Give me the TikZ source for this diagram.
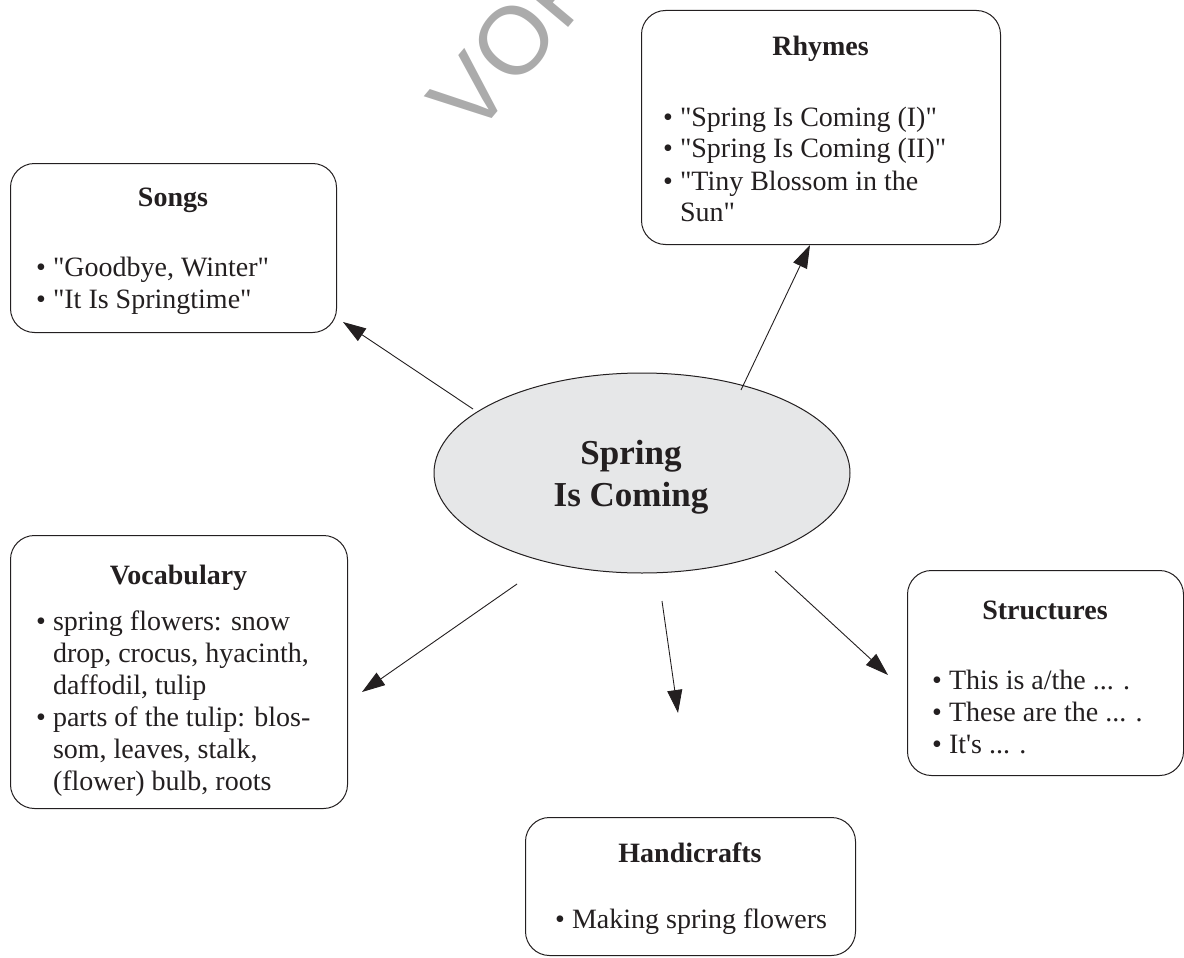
\documentclass[tikz,border=0pt]{standalone}
\usepackage{fontspec}
\setmainfont{Liberation Serif}[Ligatures=TeXOff]
\newfontfamily\wmfont{Liberation Sans}
\usetikzlibrary{arrows.meta,shapes.geometric,calc}
\definecolor{ink}{HTML}{231F20}
\definecolor{ellfill}{HTML}{E6E7E8}
\definecolor{wmgray}{HTML}{ABABAB}
\begin{document}
\begin{tikzpicture}[x=1pt,y=-1pt,
  box/.style={draw=ink, line width=1pt, rounded corners=24pt, inner sep=0pt, anchor=north west},
  ttl/.style={font=\fontsize{28}{32}\selectfont\bfseries, text=ink, anchor=base, inner sep=0pt},
  items/.style={font=\fontsize{28}{32}\selectfont, text=ink, anchor=base west, inner sep=0pt},
  arr/.style={draw=ink, line width=0.9pt, -{Triangle[length=23pt,width=15pt]}},
]
\useasboundingbox (0,0) rectangle (1184,958);

% watermark
\node[rotate=50, font=\wmfont\fontsize{96}{96}\selectfont, text=wmgray, anchor=base west, inner sep=0pt] (wm) at (474,140) {VOR};

% central ellipse
\node[ellipse, draw=ink, fill=ellfill, line width=1pt, minimum width=416pt, minimum height=200pt, inner sep=0pt] (sc) at (642,473) {};
\node[align=center, text=ink, inner sep=0pt, font=\fontsize{35}{42}\selectfont\bfseries] (scT) at (631,477) {Spring\\Is Coming};

% Songs
\node[box, minimum width=326pt, minimum height=169pt] (songs) at (10,163) {};
\node[ttl] (songsT) at (173,206) {Songs};
\node[items] (songsI) at (36,276) {\begin{tabular}[t]{@{}l@{\hspace{7pt}}l@{}}
• & "Goodbye, Winter"\\
• & "It Is Springtime"
\end{tabular}};

% Rhymes
\node[box, minimum width=359pt, minimum height=234pt] (rhymes) at (641,10) {};
\node[ttl] (rhymesT) at (820.5,56) {Rhymes};
\node[items] (rhymesI) at (663,126) {\begin{tabular}[t]{@{}l@{\hspace{7pt}}l@{}}
• & "Spring Is Coming (I)"\\
• & "Spring Is Coming (II)"\\
• & "Tiny Blossom in the\\
  & Sun"
\end{tabular}};

% Vocabulary
\node[box, minimum width=337pt, minimum height=273pt] (vocab) at (10,535) {};
\node[ttl] (vocabT) at (178.5,584) {Vocabulary};
\node[items] (vocabI) at (36,630) {\begin{tabular}[t]{@{}l@{\hspace{7pt}}l@{}}
• & spring flowers: snow\\
  & drop, crocus, hyacinth,\\
  & daffodil, tulip\\
• & parts of the tulip: blos-\\
  & som, leaves, stalk,\\
  & (flower) bulb, roots
\end{tabular}};

% Structures
\node[box, minimum width=276pt, minimum height=205pt] (struct) at (907,570) {};
\node[ttl] (structT) at (1045,619) {Structures};
\node[items] (structI) at (932,689) {\begin{tabular}[t]{@{}l@{\hspace{7pt}}l@{}}
• & This is a/the ... .\\
• & These are the ... .\\
• & It's ... .
\end{tabular}};

% Handicrafts
\node[box, minimum width=330pt, minimum height=138pt] (hand) at (525,817) {};
\node[ttl] (handT) at (690,862) {Handicrafts};
\node[items] (handI) at (555,928) {\begin{tabular}[t]{@{}l@{\hspace{7pt}}l@{}}
• & Making spring flowers
\end{tabular}};

% connectors
\coordinate (s1) at (473,409); \coordinate (e1) at (343,322);
\coordinate (s2) at (741,390); \coordinate (e2) at (810,245);
\coordinate (s3) at (517,584); \coordinate (e3) at (362,692);
\coordinate (s4) at (662,601); \coordinate (e4) at (678,713);
\coordinate (s5) at (775,571); \coordinate (e5) at (888,675);
\draw[arr] (s1) -- (e1);
\draw[arr] (s2) -- (e2);
\draw[arr] (s3) -- (e3);
\draw[arr] (s4) -- (e4);
\draw[arr] (s5) -- (e5);
\end{tikzpicture}
\end{document}
